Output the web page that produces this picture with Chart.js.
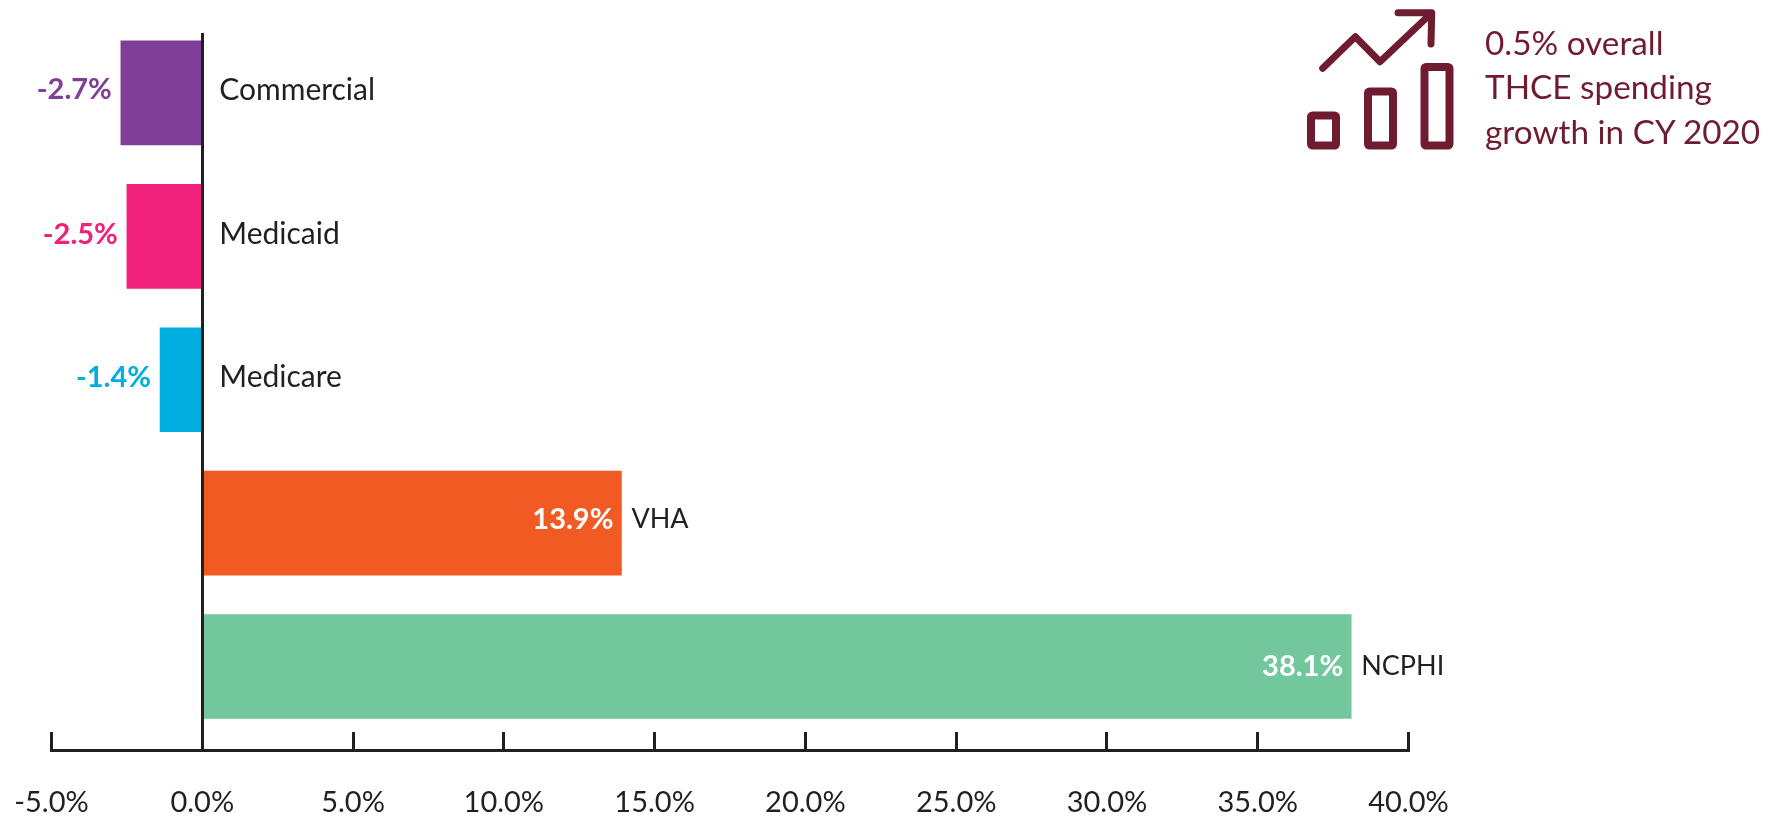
<!DOCTYPE html>
<html lang="en">
<head>
  <meta charset="UTF-8">
  <title>THCE spending growth by market</title>
  <script src="https://cdn.jsdelivr.net/npm/chart.js"></script>
  <style>
    html, body { margin: 0; padding: 0; background: #fff; overflow: hidden; }
    #wrap { position: relative; width: 1783px; height: 816px; }
    #icon { position: absolute; left: 0; top: 0; }
    #note {
      position: absolute; left: 1485px; top: 19.5px;
      font: 33.3px/44.5px Lato, sans-serif; color: #701c30; white-space: nowrap;
    }
  </style>
</head>
<body>
<div id="wrap">
  <canvas id="myChart" width="1783" height="816"></canvas>
  <!-- icono de arriba a la derecha -->
  <svg id="icon" width="1783" height="816" fill="none" stroke="#701c30" stroke-linecap="round" stroke-linejoin="round">
    <g stroke-width="8">
      <rect x="1311" y="115.5" width="25" height="30" rx="1.5"/>
      <rect x="1368" y="91.5" width="25" height="54" rx="1.5"/>
      <rect x="1424.5" y="67" width="25" height="78.5" rx="1.5"/>
    </g>
    <g stroke-width="7">
      <polyline points="1322.7,68.3 1355.3,36.7 1380,61.7 1431,13.5"/>
      <polyline points="1398,12.7 1431.7,12.7 1431,44"/>
    </g>
  </svg>
  <div id="note">0.5% overall<br>THCE spending<br>growth in CY 2020</div>
</div>

<script>
  const categories = ['Commercial', 'Medicaid', 'Medicare', 'VHA', 'NCPHI'];
  const growth = [-2.7, -2.5, -1.4, 13.9, 38.1];
  const barColors = ['#7f3f98', '#f0217a', '#00aee0', '#f15a22', '#72c79d'];
  const xTicks = [-5, 0, 5, 10, 15, 20, 25, 30, 35, 40];

  const inkColor = '#231f20';
  const fontName = 'Lato, sans-serif';
  // ajuste vertical de cada etiqueta respecto al centro de la barra
  const labelNudge = [-3, -2, -2, -4, 0];

  const pct = v => v.toFixed(1) + '%';

  // Etiquetas de valor y de categoria
  const barLabels = {
    id: 'barLabels',
    afterDatasetsDraw(chart) {
      const ctx = chart.ctx;
      const x0 = chart.scales.x.getPixelForValue(0);
      const bars = chart.getDatasetMeta(0).data;
      ctx.save();
      ctx.textBaseline = 'middle';
      bars.forEach((bar, i) => {
        const y = bar.y + labelNudge[i];
        const v = growth[i];
        ctx.textAlign = 'right';
        ctx.font = 'bold 29px ' + fontName;
        ctx.fillStyle = v < 0 ? barColors[i] : '#ffffff';
        ctx.fillText(pct(v), bar.x - (v < 0 ? 9 : 8), y);

        ctx.textAlign = 'left';
        ctx.font = (v < 0 ? 30 : 27) + 'px ' + fontName;
        ctx.fillStyle = inkColor;
        ctx.fillText(categories[i], v < 0 ? x0 + 17 : bar.x + 10, y);
      });
      ctx.restore();
    }
  };

  const myChart = new Chart(document.getElementById('myChart').getContext('2d'), {
    type: 'bar',
    data: {
      datasets: [{
        data: categories.map((c, i) => ({ x: growth[i], y: i })),
        backgroundColor: barColors,
        barThickness: 104,
        borderWidth: 0
      }]
    },
    options: {
      indexAxis: 'y',
      responsive: false,
      animation: false,
      layout: { padding: { left: 51.5, right: 374.5, top: 33, bottom: 0 } },
      plugins: { legend: { display: false }, tooltip: { enabled: false } },
      scales: {
        x: {
          type: 'linear',
          min: -5,
          max: 40,
          afterFit(scale) {
            scale.height = 66;
            scale.paddingLeft = 0;
            scale.paddingRight = 0;
          },
          afterBuildTicks(scale) { scale.ticks = xTicks.map(v => ({ value: v })); },
          border: { display: true, color: inkColor, width: 3, z: 1 },
          grid: {
            z: 1,
            drawTicks: true,
            tickLength: -18,
            tickWidth: 3,
            tickColor: inkColor,
            lineWidth: 3,
            color: c => (c.tick && c.tick.value === 0 ? inkColor : 'transparent')
          },
          ticks: {
            autoSkip: false,
            maxRotation: 0,
            padding: 53,
            color: inkColor,
            font: { family: fontName, size: 29 },
            callback: v => pct(v)
          }
        },
        y: {
          type: 'linear',
          display: false,
          reverse: true,
          offset: false,
          bounds: 'data',
          min: -0.418,
          max: 4.582
        }
      }
    },
    plugins: [barLabels]
  });
</script>
</body>
</html>
